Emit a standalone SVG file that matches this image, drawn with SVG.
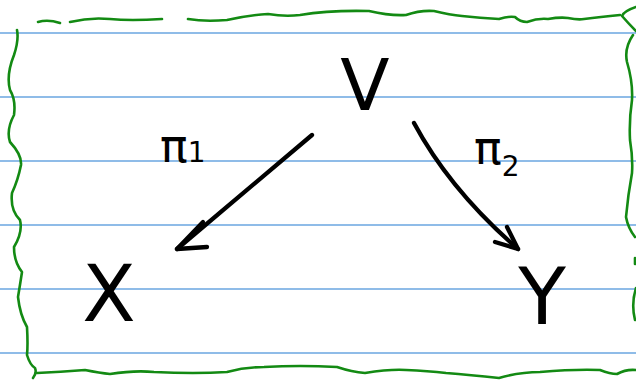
<svg xmlns="http://www.w3.org/2000/svg" width="636" height="381" viewBox="0 0 636 381">
<style>
.rule{stroke:#6aa6e0;stroke-width:1.3;fill:none}
.frame{stroke:#138a13;stroke-width:2.6;fill:none;stroke-linecap:round;stroke-linejoin:round}
.ink{stroke:#000;stroke-width:4.3;fill:none;stroke-linecap:round;stroke-linejoin:round}
.lbl{font-family:"DejaVu Sans","Liberation Sans",sans-serif;fill:#000}
</style>
<rect width="636" height="381" fill="#fff"/>
<g id="ruling">
<line class="rule" x1="0" y1="33" x2="636" y2="33"/>
<line class="rule" x1="0" y1="97" x2="636" y2="97"/>
<line class="rule" x1="0" y1="161" x2="636" y2="161"/>
<line class="rule" x1="0" y1="225" x2="636" y2="225"/>
<line class="rule" x1="0" y1="289" x2="636" y2="289"/>
<line class="rule" x1="0" y1="353" x2="636" y2="353"/>
</g>
<g id="frame">
<path class="frame" d="M38,22 Q48,19 60,23"/>
<path class="frame" d="M70,22 Q90,17 110,19 T162,19"/>
<path class="frame" d="M188,19 Q205,22 227,20 Q250,15 268,14 Q285,17 300,15 Q330,10 369,11 Q390,16 406,15 Q420,10 434,11 Q450,15 462,16 Q480,18 499,19 Q508,16 515,17 Q520,22 527,22 Q538,18 548,19 Q560,17 568,18 Q578,20 584,19 Q600,17 620,15"/>
<path class="frame" d="M636,7 Q624,11 622,16 Q628,23 636,31"/>
<path class="frame" d="M633,35 Q624,48 627,62 Q633,82 632,100 Q629,120 630,140 Q633,158 632,173 Q628,195 626,217 Q628,228 635,237"/>
<path class="frame" d="M635,258 L635,264"/>
<path class="frame" d="M636,288 Q631,304 635,320"/>
<path class="frame" d="M17,30 Q19,40 14,55 Q6,75 10,90 Q16,100 14,115 Q6,130 10,142 Q22,155 21,165 Q18,180 12,193 Q10,210 20,220 Q23,232 14,247 Q14,262 22,272 Q20,285 18,297 Q20,315 27,327 Q28,345 27,355 Q30,365 35,368 Q37,373 33,378"/>
<path class="frame" d="M37,373 Q60,372 85,370 Q100,373 110,374 Q135,370 154,372 Q195,374 227,372 Q245,367 264,367 Q300,365 337,367 Q352,372 365,373 Q390,369 406,370 Q428,371 446,373 Q470,375 499,378 Q520,372 540,372 Q575,369 600,370 Q610,374 617,374 Q626,369 636,370"/>
</g>
<g id="node-V"><text class="lbl" x="365" y="110" font-size="72" text-anchor="middle">V</text></g>
<g id="node-X"><text class="lbl" x="109" y="321" font-size="78" text-anchor="middle">X</text></g>
<g id="node-Y"><text class="lbl" x="542" y="324" font-size="78" text-anchor="middle">Y</text></g>
<g id="label-pi1"><text class="lbl" x="160" y="162" font-size="46">π<tspan font-size="28">1</tspan></text></g>
<g id="label-pi2"><text class="lbl" x="474" y="164" font-size="46">π<tspan font-size="28" dy="12">2</tspan></text></g>
<g id="connectors">
<path class="ink" d="M312,135 Q250,187 177,249"/>
<path class="ink" d="M203,222 L177,249 L207,247"/>
<path class="ink" d="M414,123 Q450,190 518,249"/>
<path class="ink" d="M507,227 L518,249 L495,242"/>
</g>
</svg>
